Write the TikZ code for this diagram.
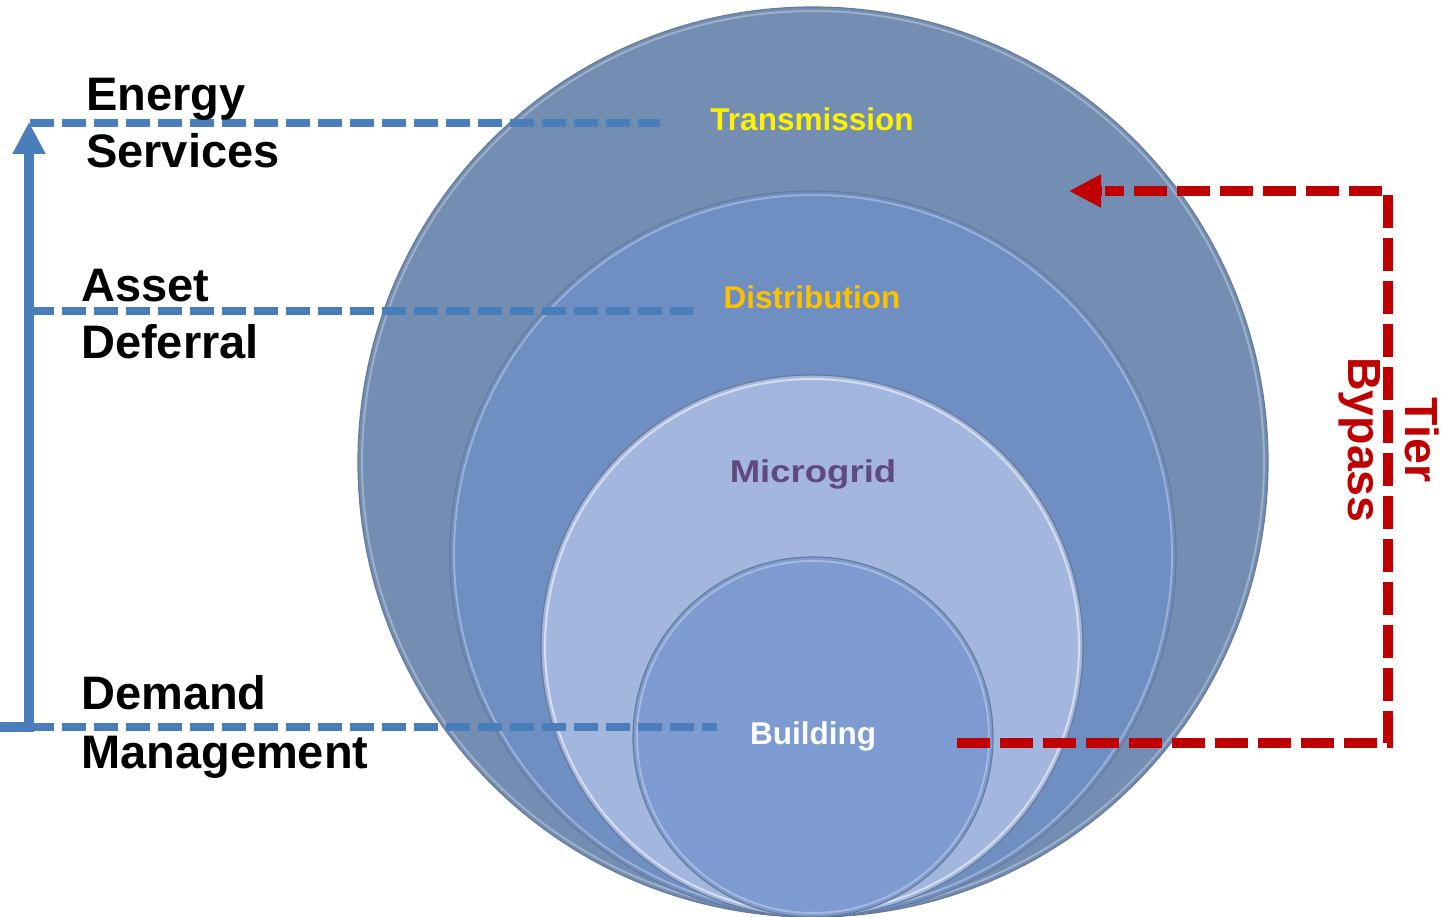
\documentclass[tikz,border=0pt]{standalone}
\usepackage{fontspec}
\setmainfont{Liberation Sans}
\usetikzlibrary{arrows.meta}
\definecolor{tierblue}{HTML}{4A7EBB}
\definecolor{bypassred}{HTML}{C00000}
\definecolor{outerfill}{HTML}{748EB3}
\definecolor{distfill}{HTML}{6F8FC3}
\definecolor{microfill}{HTML}{A3B6DE}
\definecolor{buildfill}{HTML}{7D9BD0}
\definecolor{ringedge}{HTML}{667A99}
\definecolor{distlabel}{HTML}{FFC000}
\definecolor{microlabel}{HTML}{604A7B}
\begin{document}
\begin{tikzpicture}[x=1pt,y=-1pt,
  ring/.style={circle, inner sep=0pt, draw=ringedge, line width=1.2pt},
  ringshine/.style={draw=white, opacity=0.3, line width=2pt},
  bluedash/.style={draw=tierblue, line width=8pt, dash pattern=on 24pt off 8pt},
  reddash/.style={draw=bypassred, line width=10.5pt, dash pattern=on 33pt off 10pt},
  sidelabel/.style={anchor=base west, align=left, inner sep=0pt, font=\fontsize{47}{57}\selectfont\bfseries},
  ringlabel/.style={anchor=base, inner sep=0pt, font=\fontsize{31.5}{36}\selectfont\bfseries}]
\useasboundingbox (0,0) rectangle (1450,917);

% nested circles
\node[ring, fill=outerfill, minimum size=910pt] (trans) at (813,462) {};
\draw[ringshine] (813,462) circle[radius=451];
\node[ring, fill=distfill, minimum size=726pt] (dist) at (813,554) {};
\draw[ringshine] (813,554) circle[radius=359];
\node[ring, fill=microfill, minimum size=542pt] (micro) at (812,646) {};
\draw[ringshine, opacity=0.55] (812,646) circle[radius=267];
\node[ring, fill=buildfill, minimum size=360pt] (build) at (813,737) {};
\draw[ringshine] (813,737) circle[radius=176];

% blue tier lines
\coordinate (corner) at (0,727);
\coordinate (esend) at (660,123);
\coordinate (adend) at (693,311);
\coordinate (dmend) at (717,727);
\coordinate (estart) at (30,123);
\coordinate (astart) at (30,311);
\coordinate (dstart) at (30,727);
\draw[bluedash] (estart) -- (esend);
\draw[bluedash] (astart) -- (adend);
\draw[bluedash] (dstart) -- (dmend);
\coordinate (uptip) at (29,122);
\draw[draw=tierblue, line width=10pt, -{Triangle[length=32pt,width=31pt]}] (corner) -| (uptip);

% side labels (base anchor = baseline of the last line)
\node[sidelabel] (es) at (86,168) {Energy\\Services};
\node[sidelabel] (ad) at (81,358) {Asset\\Deferral};
\node[sidelabel] (dm) at (81,768) {Demand\\[2pt]Management};

% ring labels
\node[ringlabel, text=yellow] (transl) at (812,131) {Transmission};
\node[ringlabel, text=distlabel] (distl) at (812,308) {Distribution};
\node[ringlabel, text=microlabel] (microl) at (813,482) {\scalebox{1.16}[1]{Microgrid}};
\node[ringlabel, text=white] (buildl) at (813,744) {Building};

% tier bypass
\coordinate (bpstart) at (957,743);
\coordinate (bpcornerA) at (1388,743);
\coordinate (bptip) at (1069,191);
\draw[reddash] (bpstart) -- (bpcornerA) -- (1388,191) -- (1105,191);
\draw[bypassred, line width=10.5pt, -{Triangle[length=32pt,width=31pt]}] (1102,191) -- (bptip);
\node[rotate=-90, align=center, inner sep=0pt, text=bypassred,
      font=\fontsize{46.5}{57}\selectfont\bfseries] (tierbypass) at (1389,440) {Tier\\Bypass};
\end{tikzpicture}
\end{document}
